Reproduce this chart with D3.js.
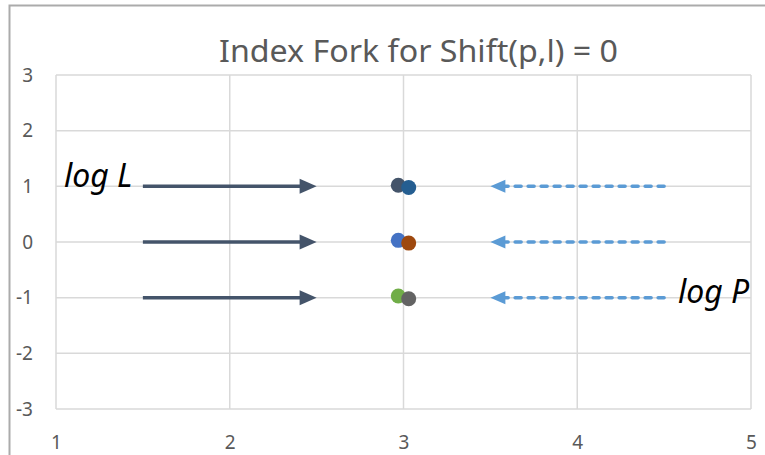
<!DOCTYPE html>
<html lang="en">
  <head>
    <title>Index Fork for Shift(p,l) = 0</title>
    <meta charset="utf-8"/>
    <script type="text/javascript" src="https://cdn.jsdelivr.net/npm/d3@7"></script>
    <style>
     body { margin: 0; background: white; }
     svg { display: block; }
     .tick text { font-family: "Noto Sans", sans-serif; font-size: 19px; fill: #595959; }
    </style>
  </head>
  <body>
    <script type="text/javascript">
     // data --------------------------------------------------------------------
     let xTicks = [1, 2, 3, 4, 5];
     let yTicks = [-3, -2, -1, 0, 1, 2, 3];

     // the three index rows, each with a pair of points around x = 3
     let rowLevels = [1, 0, -1];
     let leftX = 2.97;
     let leftY = [1.02, 0.03, -0.97];
     let leftColors = ["#44546A", "#4472C4", "#70AD47"];
     let rightX = 3.03;
     let rightY = [0.98, -0.02, -1.02];
     let rightColors = ["#255E91", "#9E480E", "#636363"];

     // arrows: log L goes right, log P comes back left
     let lFrom = 1.5, lTo = 2.5;
     let pFrom = 4.5, pTo = 3.5;

     let title = "Index Fork for Shift(p,l) = 0";

     // svg ---------------------------------------------------------------------
     let w = 765, h = 455;
     let plot = {left: 56, right: 751, top: 75, bottom: 409};

     let svg = d3.select("body").append("svg")
                 .attr("width", w)
                 .attr("height", h);

     let x = d3.scaleLinear().domain([1, 5]).range([plot.left, plot.right]);
     let y = d3.scaleLinear().domain([-3, 3]).range([plot.bottom, plot.top]);

     // outer chart frame (only top and left are inside the picture)
     svg.append("path")
        .attr("d", "M9.5,455 V5.5 H765")
        .attr("fill", "none")
        .attr("stroke", "#ABABAB")
        .attr("stroke-width", 2);

     // title
     svg.append("text")
        .text(title)
        .attr("x", 418.5)
        .attr("y", 62)
        .attr("text-anchor", "middle")
        .attr("textLength", 399)
        .attr("lengthAdjust", "spacingAndGlyphs")
        .attr("font-family", "'Noto Sans', sans-serif")
        .attr("font-size", "31px")
        .attr("fill", "#595959");

     // grid lines
     svg.append("g").selectAll("line")
        .data(xTicks)
        .enter()
        .append("line")
        .attr("x1", d => x(d)).attr("x2", d => x(d))
        .attr("y1", plot.top).attr("y2", plot.bottom)
        .attr("stroke", "#D9D9D9")
        .attr("stroke-width", 1.5);

     svg.append("g").selectAll("line")
        .data(yTicks)
        .enter()
        .append("line")
        .attr("x1", plot.left).attr("x2", plot.right)
        .attr("y1", d => y(d)).attr("y2", d => y(d))
        .attr("stroke", "#D9D9D9")
        .attr("stroke-width", 1.5);

     // axes (labels only, the lines are the grid)
     let yAxis = svg.append("g")
                    .attr("transform", "translate(" + plot.left + ",0)")
                    .call(d3.axisLeft(y).tickValues(yTicks).tickSize(0).tickPadding(23).tickFormat(d3.format("d")));
     let xAxis = svg.append("g")
                    .attr("transform", "translate(0," + plot.bottom + ")")
                    .call(d3.axisBottom(x).tickValues(xTicks).tickSize(0).tickPadding(27).tickFormat(d3.format("d")));
     yAxis.select(".domain").remove();
     xAxis.select(".domain").remove();
     // d3 uses a real minus sign, the picture has a hyphen
     yAxis.selectAll(".tick text").text(d => String(d));

     // log L arrows: solid shaft + triangle head pointing right
     let headL = 17, halfL = 7.5;
     let gL = svg.append("g");
     gL.selectAll("line")
       .data(rowLevels)
       .enter()
       .append("line")
       .attr("x1", x(lFrom))
       .attr("x2", x(lTo) - headL + 2)
       .attr("y1", d => y(d))
       .attr("y2", d => y(d))
       .attr("stroke", "#44546A")
       .attr("stroke-width", 3.5);
     gL.selectAll("path")
       .data(rowLevels)
       .enter()
       .append("path")
       .attr("d", d => {
         let tx = x(lTo), ty = y(d);
         return "M" + tx + "," + ty + " L" + (tx - headL) + "," + (ty - halfL) +
                " L" + (tx - headL) + "," + (ty + halfL) + " Z";
       })
       .attr("fill", "#44546A");

     // log P arrows: dashed shaft + triangle head pointing left
     let headP = 15, halfP = 6.5;
     let gP = svg.append("g");
     gP.selectAll("line")
       .data(rowLevels)
       .enter()
       .append("line")
       .attr("x1", x(pFrom))
       .attr("x2", x(pTo) + headP)
       .attr("y1", d => y(d))
       .attr("y2", d => y(d))
       .attr("stroke", "#5B9BD5")
       .attr("stroke-width", 3.5)
       .attr("stroke-linecap", "round")
       .attr("stroke-dasharray", "6,7");
     gP.selectAll("path")
       .data(rowLevels)
       .enter()
       .append("path")
       .attr("d", d => {
         let tx = x(pTo), ty = y(d);
         return "M" + tx + "," + ty + " L" + (tx + headP) + "," + (ty - halfP) +
                " L" + (tx + headP) + "," + (ty + halfP) + " Z";
       })
       .attr("fill", "#5B9BD5");

     // points: left member first, right one drawn on top
     svg.append("g").selectAll("circle")
        .data(leftY)
        .enter()
        .append("circle")
        .attr("cx", x(leftX))
        .attr("cy", d => y(d))
        .attr("r", 7.5)
        .attr("fill", (d, i) => leftColors[i]);

     svg.append("g").selectAll("circle")
        .data(rightY)
        .enter()
        .append("circle")
        .attr("cx", x(rightX))
        .attr("cy", d => y(d))
        .attr("r", 7.5)
        .attr("fill", (d, i) => rightColors[i]);

     // series labels
     svg.append("text")
        .text("log L")
        .attr("x", 64)
        .attr("y", y(rowLevels[0]) + 1)
        .attr("font-family", "'Noto Sans', sans-serif")
        .attr("font-style", "italic")
        .attr("font-size", "32px")
        .attr("fill", "black");

     svg.append("text")
        .text("log P")
        .attr("x", 678)
        .attr("y", y(rowLevels[2]) + 5)
        .attr("font-family", "'Noto Sans', sans-serif")
        .attr("font-style", "italic")
        .attr("font-size", "32px")
        .attr("fill", "black");
    </script>
  </body>
</html>
